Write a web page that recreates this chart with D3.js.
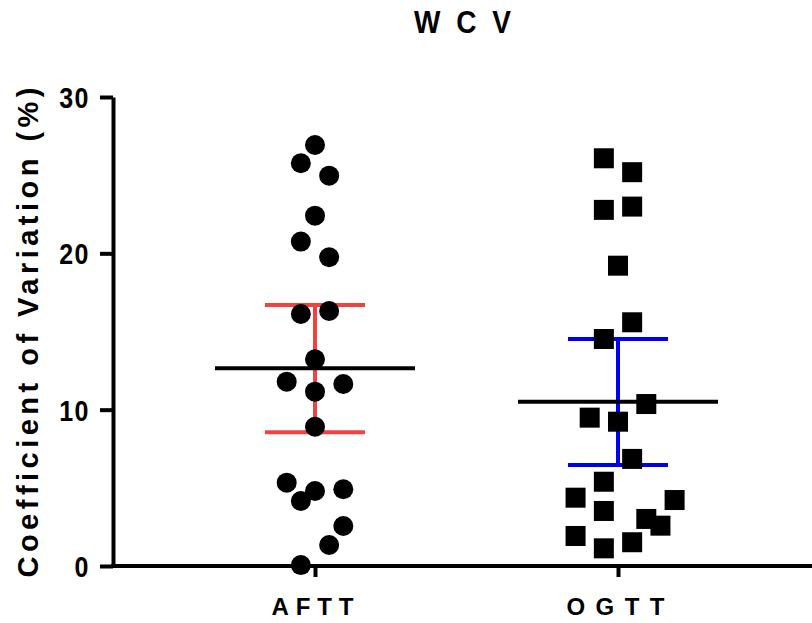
<!DOCTYPE html>
<html>
<head>
<meta charset="utf-8">
<script src="https://cdn.jsdelivr.net/npm/d3@7"></script>
<style>
  html, body { margin: 0; padding: 0; background: #fff; }
  svg { display: block; }
  text { font-family: "Liberation Sans", Arial, sans-serif; font-weight: bold; fill: #000; }
</style>
</head>
<body>
<svg id="chart" width="812" height="623"></svg>
<script>
// ---- data ----
const categories = ["AFTT", "OGTT"];
const title = "WCV";
const yLabel = "Coefficient of Variation (%)";
const yTicks = [0, 10, 20, 30];

const afttValues = [26.93, 25.76, 24.97, 22.41, 20.75, 19.75, 16.12, 16.31, 13.22, 11.79,
                    11.64, 11.15, 8.91, 5.33, 4.80, 4.91, 4.16, 2.56, 1.34, 0.06];
const afttLanes  = [0, -1, 1, 0, -1, 1, -1, 1, 0, -2, 2, 0, 0, -2, 0, 2, -1, 2, 1, -1];

const ogttValues = [26.08, 25.19, 22.78, 22.99, 19.21, 15.59, 14.52, 10.36, 9.49, 9.23,
                    6.85, 5.39, 4.37, 4.22, 3.52, 3.01, 2.58, 1.92, 1.52, 1.13];
const ogttLanes  = [-1, 1, -1, 1, 0, 1, -1, 2, -2, 0, 1, -1, -3, 4, -1, 2, 3, -3, 1, -1];

const means  = [12.65, 10.51];
const ciLow  = [8.55, 6.46];
const ciHigh = [16.70, 14.52];
const ciColors = ["#f24141", "#0000ee"];

// ---- layout ----
const svg = d3.select("#chart");
const plotLeft = 113, plotRight = 812, plotTop = 97, plotBottom = 566;
const laneStep = 14.15;

const y = d3.scaleLinear().domain([0, 30]).range([plotBottom, plotTop]);
const x = d3.scalePoint().domain(categories).range([315, 618]);

// Title
svg.append("text")
  .attr("transform", `translate(${(plotLeft + plotRight) / 2},33) scale(1,1.15)`)
  .attr("text-anchor", "middle")
  .attr("font-size", 28)
  .attr("textLength", 97)
  .attr("lengthAdjust", "spacing")
  .text(title);

// Y axis label
svg.append("text")
  .attr("transform", `translate(38,${(88 + 577) / 2}) rotate(-90)`)
  .attr("text-anchor", "middle")
  .attr("font-size", 29)
  .attr("textLength", 490)
  .attr("lengthAdjust", "spacing")
  .text(yLabel);

// Y axis
const yAxis = svg.append("g")
  .attr("transform", `translate(${plotLeft},0)`)
  .call(d3.axisLeft(y).tickValues(yTicks).tickSize(13).tickSizeOuter(0).tickFormat(d3.format("d")));
yAxis.select(".domain").attr("stroke", "#000").attr("stroke-width", 4);
yAxis.selectAll(".tick line").attr("stroke", "#000").attr("stroke-width", 4);
yAxis.selectAll(".tick text")
  .attr("x", -23)
  .attr("dy", null)
  .attr("y", 8.8)
  .attr("transform", "scale(1,1.18)")
  .attr("font-size", 25)
  .attr("letter-spacing", 1.5)
  .attr("font-family", null)
  .style("font-family", '"Liberation Sans", Arial, sans-serif')
  .style("font-weight", "bold")
  .attr("fill", "#000");

// X axis
const xAxis = svg.append("g")
  .attr("transform", `translate(0,${plotBottom})`)
  .call(d3.axisBottom(x).tickSize(11).tickSizeOuter(0));
xAxis.select(".domain").remove();
xAxis.append("line")
  .attr("x1", plotLeft - 2).attr("x2", plotRight)
  .attr("y1", 0).attr("y2", 0)
  .attr("stroke", "#000").attr("stroke-width", 4);
xAxis.selectAll(".tick line").attr("stroke", "#000").attr("stroke-width", 4);
const xLabelLen = { AFTT: 82, OGTT: 98 };
xAxis.selectAll(".tick text")
  .attr("dy", null)
  .attr("y", 49)
  .attr("x", -3)
  .attr("font-size", 24)
  .attr("font-family", null)
  .attr("textLength", d => xLabelLen[d])
  .attr("lengthAdjust", "spacing")
  .style("font-family", '"Liberation Sans", Arial, sans-serif')
  .style("font-weight", "bold")
  .attr("fill", "#000");

// Error bars (95% CI)
const stats = categories.map((c, i) => ({ c, mean: means[i], lo: ciLow[i], hi: ciHigh[i], color: ciColors[i] }));
const eb = svg.append("g");
stats.forEach(s => {
  const cx = x(s.c);
  const g = eb.append("g").attr("stroke", s.color).attr("stroke-width", 4);
  g.append("line").attr("x1", cx).attr("x2", cx).attr("y1", y(s.lo)).attr("y2", y(s.hi));
  g.append("line").attr("x1", cx - 50).attr("x2", cx + 50).attr("y1", y(s.hi)).attr("y2", y(s.hi));
  g.append("line").attr("x1", cx - 50).attr("x2", cx + 50).attr("y1", y(s.lo)).attr("y2", y(s.lo));
});
// Mean lines
svg.append("g").selectAll("line").data(stats).join("line")
  .attr("x1", d => x(d.c) - 100).attr("x2", d => x(d.c) + 100)
  .attr("y1", d => y(d.mean)).attr("y2", d => y(d.mean))
  .attr("stroke", "#000").attr("stroke-width", 4);

// Points
const afttPts = afttValues.map((v, i) => ({ v, lane: afttLanes[i] }));
const ogttPts = ogttValues.map((v, i) => ({ v, lane: ogttLanes[i] }));

svg.append("g").selectAll("circle").data(afttPts).join("circle")
  .attr("cx", d => x("AFTT") + d.lane * laneStep)
  .attr("cy", d => y(d.v))
  .attr("r", 10)
  .attr("fill", "#000");

svg.append("g").selectAll("rect").data(ogttPts).join("rect")
  .attr("x", d => x("OGTT") + d.lane * laneStep - 10)
  .attr("y", d => y(d.v) - 10)
  .attr("width", 20).attr("height", 20)
  .attr("fill", "#000");
</script>
</body>
</html>
